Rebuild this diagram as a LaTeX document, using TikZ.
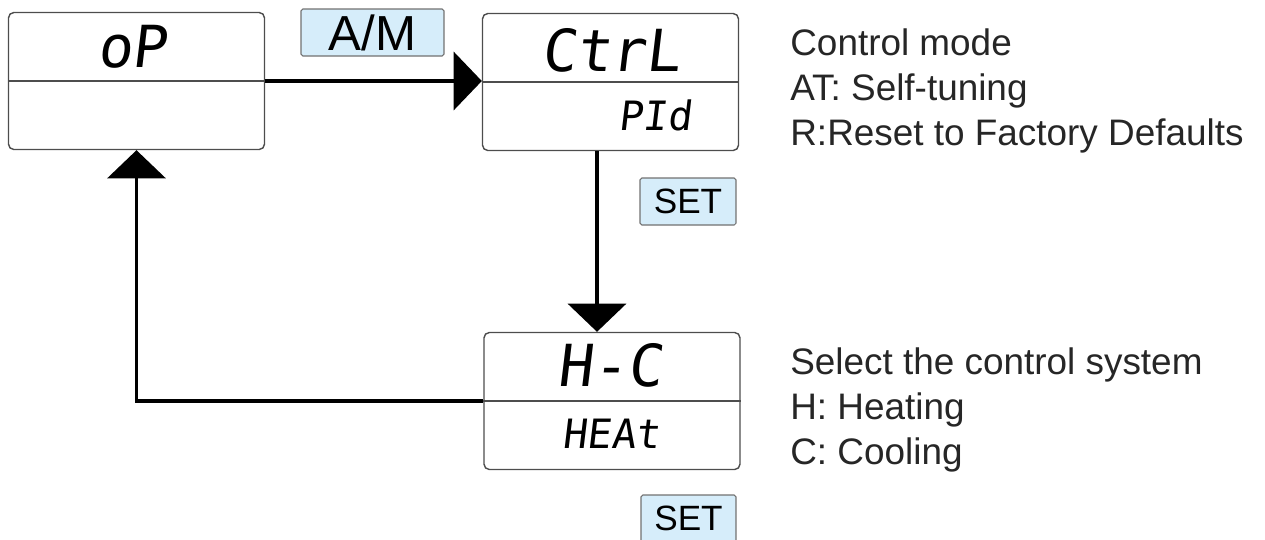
\documentclass[tikz,border=0pt]{standalone}
\usepackage{fontspec}
\setmainfont{Liberation Sans}
\newfontfamily\segfont[FakeSlant=0.12]{DejaVu Sans Mono}
\usetikzlibrary{arrows.meta}
\definecolor{keyblue}{HTML}{D6EDFA}
\definecolor{rim}{HTML}{4D4D4D}
\begin{document}
\begin{tikzpicture}[x = 0.02cm, y = -0.02cm,
		disp/.style = {draw = rim, line width = 0.8pt, rounded corners = 3pt, minimum width = 5.12cm, minimum height = 2.74cm, inner sep = 0pt},
		key/.style = {draw = rim!80, fill = keyblue, line width = 0.6pt, rounded corners = 1pt, minimum height = 0.94cm, inner sep = 0pt},
		seg/.style = {font = \segfont\fontsize{33}{33}\selectfont},
		subseg/.style = {font = \segfont\fontsize{23}{23}\selectfont},
		note/.style = {anchor = north west, align = left, inner sep = 0pt, text = black!85, font = \fontsize{21}{25.6}\selectfont},
		flow/.style = {line width = 2pt, -{Triangle[length = 16pt, width = 33pt]}}]
		\useasboundingbox (0, 0) rectangle (1265, 539);
		\begin{scope}
		\clip (0, 0) rectangle (1265, 539);
		% displays
		\node[disp] (op) at (136.5, 81) {};
		\node[disp] (ctrl) at (610.5, 82) {};
		\node[disp] (hc) at (612, 401) {};
		\foreach \b in {op, ctrl, hc}{
			\draw[rim, line width = 0.8pt] (\b.west) -- (\b.east);}
		\node[seg] (opTop) at (132, 47) {oP};
		\node[seg] (ctrlTop) at (611, 50) {CtrL};
		\node[subseg] (ctrlBot) at (655, 115) {PId};
		\node[seg] (hcTop) at (610, 365) {H-C};
		\node[subseg] (hcBot) at (611, 434) {HEAt};
		% keys
		\node[key, minimum width = 2.86cm, font = \fontsize{28}{28}\selectfont] (am) at (372.5, 32.5) {A/M};
		\node[key, minimum width = 1.92cm, font = \fontsize{20}{20}\selectfont] (set1) at (688, 201.5) {SET};
		\node[key, minimum width = 1.9cm, font = \fontsize{20}{20}\selectfont] (set2) at (688.5, 518.5) {SET};
		% notes
		\node[note] (ctrlnote) at (790, 28) {Control mode\\AT: Self-tuning\\R:Reset to Factory Defaults};
		\node[note] (hcnote) at (790, 347) {Select the control system\\H: Heating\\C: Cooling};
		% flow
		\coordinate (drop) at (597, 0);
		\draw[flow] (op.east) -- (op.east -| ctrl.west);
		\draw[flow] (ctrl.south -| drop) -- (hc.north -| drop);
		\draw[flow] (hc.west) -| (op.south);
		\end{scope}
\end{tikzpicture}
\end{document}
